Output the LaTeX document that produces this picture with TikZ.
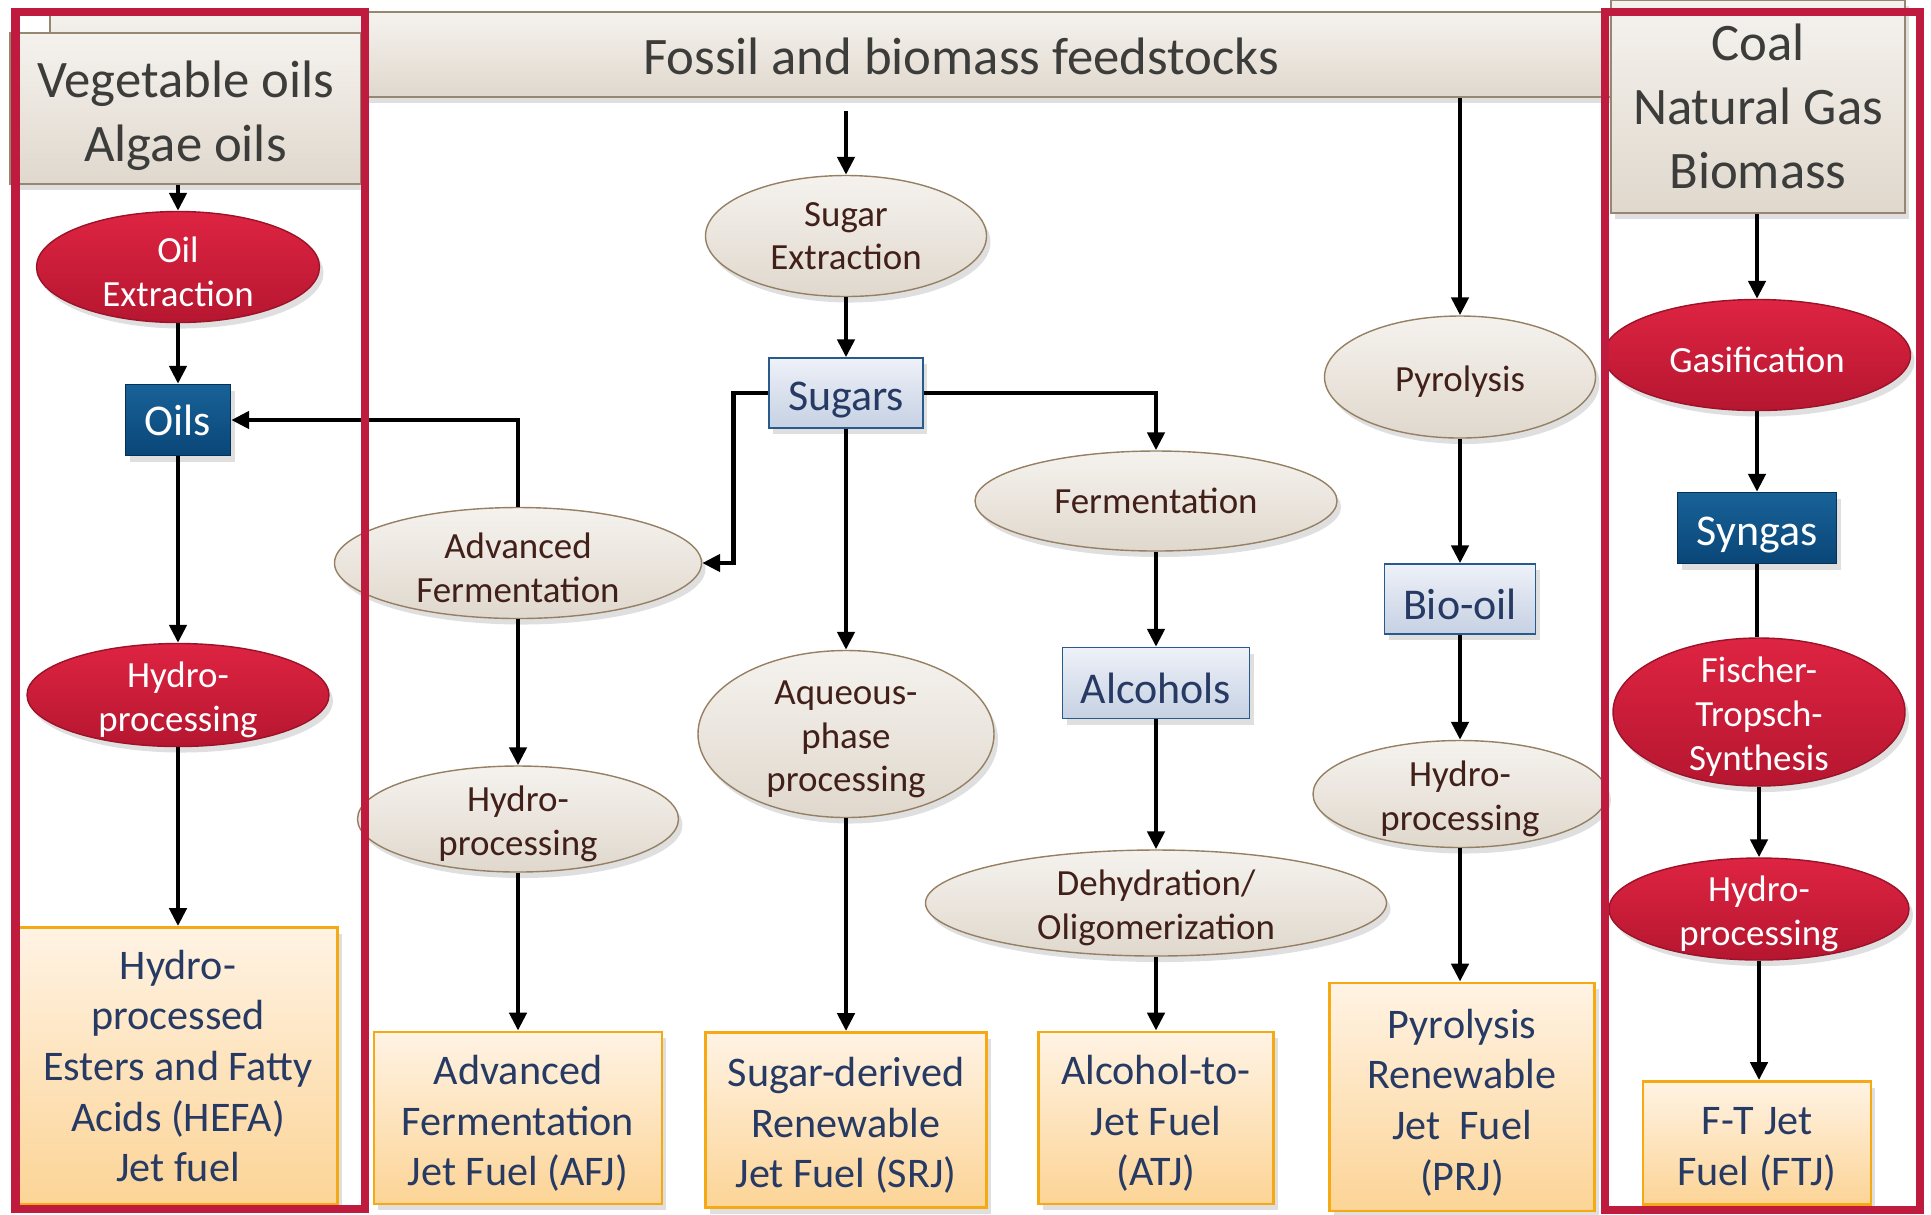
\documentclass[tikz,border=0pt]{standalone}
\usepackage{fontspec}
\setmainfont{Carlito}
\usetikzlibrary{shapes.geometric, arrows.meta, shadows}
\definecolor{framered}{RGB}{190, 27, 62}
\definecolor{procredtop}{RGB}{222, 36, 66}
\definecolor{procredbot}{RGB}{182, 22, 48}
\definecolor{beigetop}{RGB}{245, 242, 238}
\definecolor{beigebot}{RGB}{224, 216, 205}
\definecolor{beigeline}{RGB}{150, 128, 100}
\definecolor{browntext}{RGB}{65, 32, 25}
\definecolor{darkbluetop}{RGB}{24, 98, 152}
\definecolor{darkbluebot}{RGB}{10, 70, 120}
\definecolor{lightbluetop}{RGB}{238, 241, 248}
\definecolor{lightbluebot}{RGB}{198, 209, 227}
\definecolor{blueline}{RGB}{40, 90, 140}
\definecolor{navytext}{RGB}{38, 58, 100}
\definecolor{fueltop}{RGB}{255, 243, 228}
\definecolor{fuelbot}{RGB}{252, 212, 150}
\definecolor{fuelline}{RGB}{245, 170, 20}
\definecolor{feedtext}{RGB}{60, 60, 58}
\definecolor{feedline}{RGB}{150, 135, 115}
\newcommand{\topstrut}{\rule{0pt}{0.95em}}

\begin{document}
\begin{tikzpicture}[
    softshadow/.style={drop shadow={opacity=0.25, shadow xshift=0.4mm, shadow yshift=-0.6mm}},
    feed/.style={rectangle, draw=feedline, top color=beigetop, bottom color=beigebot, text=feedtext, font=\fontsize{15}{18.2}\selectfont, align=center, inner sep=0pt, softshadow},
    redproc/.style={ellipse, draw=procredbot!85!black, top color=procredtop, bottom color=procredbot, text=white, font=\fontsize{10.5}{12.4}\selectfont, align=center, inner sep=-4pt, softshadow},
    beigeproc/.style={ellipse, draw=beigeline, top color=beigetop, bottom color=beigebot, text=browntext, font=\fontsize{10.5}{12.4}\selectfont, align=center, inner sep=-4pt, softshadow},
    darkbox/.style={rectangle, draw=darkbluebot!70!black, top color=darkbluetop, bottom color=darkbluebot, text=white, font=\fontsize{12.5}{15}\selectfont, inner sep=0pt, softshadow},
    lightbox/.style={rectangle, draw=blueline, top color=lightbluetop, bottom color=lightbluebot, text=navytext, font=\fontsize{12.5}{15}\selectfont, inner sep=0pt, softshadow},
    fuelbox/.style={rectangle, draw=fuelline, line width=0.8pt, top color=fueltop, bottom color=fuelbot, text=navytext, font=\fontsize{12}{14.4}\selectfont, align=center, inner sep=0pt, softshadow},
    arrow/.style={-{Triangle[length=1.8mm, width=1.7mm]}, line width=1.4pt, black},
    link/.style={line width=1.4pt, black},
    frame/.style={draw=framered, line width=2.4pt},
]
\useasboundingbox (0,0) rectangle (19.31,-12.14);

% Feedstock banners
\node[feed, minimum width=18.22cm, minimum height=0.85cm] (feed) at (9.61, -0.545) {};
\node[font=\fontsize{15}{18}\selectfont, text=feedtext] (feedlabel) at (9.61, -0.56) {Fossil and biomass feedstocks};
\node[feed, minimum width=3.51cm, minimum height=1.51cm] (vegoil) at (1.855, -1.085) {\topstrut Vegetable oils\\Algae oils};
\node[feed, minimum width=2.94cm, minimum height=2.13cm] (coal) at (17.58, -1.065) {Coal\\Natural Gas\\Biomass};

% Oil route
\node[redproc, minimum width=2.83cm, minimum height=1.11cm] (oilext) at (1.78, -2.67) {\topstrut Oil\\Extraction};
\node[darkbox, minimum width=1.05cm, minimum height=0.71cm] (oils) at (1.78, -4.20) {Oils};
\node[redproc, minimum width=3.02cm, minimum height=1.03cm] (hydroa) at (1.78, -6.95) {\topstrut Hydro-\\processing};
\node[fuelbox, minimum width=3.19cm, minimum height=2.77cm] (hefa) at (1.78, -10.66) {Hydro-\\processed\\Esters and Fatty\\Acids (HEFA)\\Jet fuel};

% Advanced fermentation route
\node[beigeproc, minimum width=3.67cm, minimum height=1.11cm] (advferm) at (5.18, -5.63) {\topstrut Advanced\\Fermentation};
\node[beigeproc, minimum width=3.21cm, minimum height=1.06cm] (hydrob) at (5.18, -8.19) {\topstrut Hydro-\\processing};
\node[fuelbox, minimum width=2.88cm, minimum height=1.72cm] (afj) at (5.18, -11.18) {\topstrut Advanced\\Fermentation\\Jet Fuel (AFJ)};

% Sugar route
\coordinate (sugtop) at (8.46, -1.11);
\node[beigeproc, minimum width=2.81cm, minimum height=1.21cm] (sugext) at (8.46, -2.36) {Sugar\\Extraction};
\node[lightbox, minimum width=1.54cm, minimum height=0.70cm] (sugars) at (8.46, -3.93) {\topstrut Sugars};
\node[beigeproc, minimum width=2.96cm, minimum height=1.67cm] (aqueous) at (8.46, -7.34) {\topstrut Aqueous-\\phase\\processing};
\node[fuelbox, minimum width=2.81cm, minimum height=1.75cm] (srj) at (8.46, -11.20) {\topstrut Sugar-derived\\Renewable\\Jet Fuel (SRJ)};

% Alcohol route
\node[beigeproc, minimum width=3.62cm, minimum height=1.00cm] (ferm) at (11.56, -5.01) {Fermentation};
\node[lightbox, minimum width=1.87cm, minimum height=0.71cm] (alcohols) at (11.56, -6.83) {\topstrut Alcohols};
\node[beigeproc, minimum width=4.61cm, minimum height=1.06cm] (dehyd) at (11.56, -9.03) {\topstrut Dehydration/\\Oligomerization};
\node[fuelbox, minimum width=2.35cm, minimum height=1.72cm] (atj) at (11.56, -11.18) {\topstrut Alcohol-to-\\Jet Fuel\\(ATJ)};

% Pyrolysis route
\node[beigeproc, minimum width=2.71cm, minimum height=1.22cm] (pyro) at (14.60, -3.77) {\topstrut Pyrolysis};
\node[lightbox, minimum width=1.51cm, minimum height=0.70cm] (biooil) at (14.60, -5.99) {\topstrut Bio-oil};
\node[beigeproc, minimum width=2.94cm, minimum height=1.07cm] (hydroc) at (14.60, -7.94) {\topstrut Hydro-\\processing};
\node[fuelbox, minimum width=2.65cm, minimum height=2.28cm] (prj) at (14.62, -10.97) {\topstrut Pyrolysis\\Renewable\\Jet~~Fuel\\(PRJ)};

% Gasification route
\node[redproc, minimum width=3.07cm, minimum height=1.11cm] (gasif) at (17.57, -3.55) {\topstrut Gasification};
\node[darkbox, minimum width=1.59cm, minimum height=0.71cm] (syngas) at (17.57, -5.28) {\topstrut Syngas};
\node[redproc, minimum width=2.92cm, minimum height=1.48cm] (ftsyn) at (17.59, -7.12) {\topstrut Fischer-\\Tropsch-\\Synthesis};
\node[redproc, minimum width=3.00cm, minimum height=1.02cm] (hydrod) at (17.59, -9.09) {\topstrut Hydro-\\processing};
\node[fuelbox, minimum width=2.28cm, minimum height=1.23cm] (ftj) at (17.57, -11.43) {\topstrut F-T Jet\\Fuel (FTJ)};

% Arrows
\draw[arrow] (vegoil.south -| oilext.north) -- (oilext.north);
\draw[arrow] (oilext) -- (oils);
\draw[arrow] (oils) -- (hydroa);
\draw[arrow] (hydroa) -- (hefa);

\draw[arrow] (advferm.north) |- (oils.east);
\draw[arrow] (advferm) -- (hydrob);
\draw[arrow] (hydrob) -- (afj);

\draw[arrow] (sugtop) -- (sugext.north);
\draw[arrow] (sugext) -- (sugars);
\draw[arrow] (sugars.west) -- ++(-0.35,0) |- (advferm.east);
\draw[arrow] (sugars.east) -| (ferm.north);
\draw[arrow] (sugars) -- (aqueous);
\draw[arrow] (aqueous) -- (srj);

\draw[arrow] (ferm) -- (alcohols);
\draw[arrow] (alcohols) -- (dehyd);
\draw[arrow] (dehyd) -- (atj);

\draw[arrow] (feed.south -| pyro.north) -- (pyro.north);
\draw[arrow] (pyro) -- (biooil);
\draw[arrow] (biooil) -- (hydroc);
\draw[arrow] (hydroc.south) -- (hydroc.south |- prj.north);

\draw[arrow] (coal.south -| gasif.north) -- (gasif.north);
\draw[arrow] (gasif) -- (syngas);
\draw[link] (syngas.south) -- (syngas.south |- ftsyn.north);
\draw[arrow] (ftsyn) -- (hydrod);
\draw[arrow] (hydrod.south) -- (hydrod.south |- ftj.north);

% Highlight frames
\draw[frame] (0.155, -0.12) rectangle (3.65, -12.09);
\draw[frame] (16.05, -0.12) rectangle (19.20, -12.10);

\end{tikzpicture}
\end{document}
